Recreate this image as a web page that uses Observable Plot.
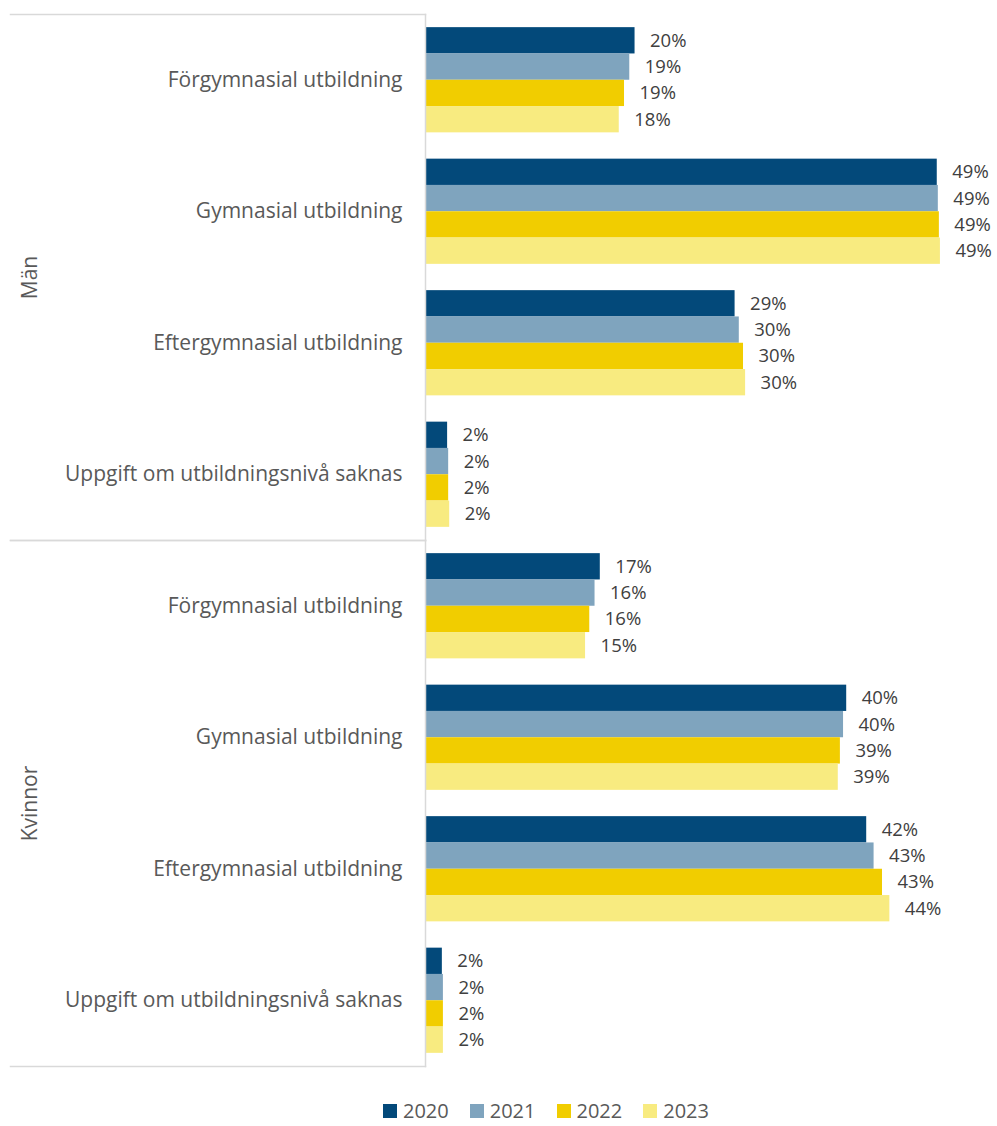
<!DOCTYPE html>
<html><head><meta charset="utf-8">
<script src="https://cdn.jsdelivr.net/npm/d3@7"></script>
<script src="https://cdn.jsdelivr.net/npm/@observablehq/plot@0.6"></script>
<style>
body{margin:0;background:#fff;font-family:"Open Sans",sans-serif;}
#legend{display:flex;margin-left:383px;margin-top:22px;height:18px;line-height:18px;align-items:center;font-size:20px;color:#595959;}
.item{display:flex;align-items:center;margin-right:21px;}
.sw{width:14px;height:14px;margin-right:6px;}
</style></head><body>
<div id="chart"></div>
<div id="legend"></div>
<script>
const groups = ["Män", "Kvinnor"];
const categories = ["Förgymnasial utbildning", "Gymnasial utbildning", "Eftergymnasial utbildning", "Uppgift om utbildningsnivå saknas"];
const years = ["2020", "2021", "2022", "2023"];
const colors = ["#03497a", "#7fa4be", "#f1cd00", "#f8eb80"];

// values in %, order follows categories
const men2020 = [19.9, 48.6, 29.4, 2.1];
const men2021 = [19.4, 48.7, 29.8, 2.2];
const men2022 = [18.9, 48.8, 30.2, 2.2];
const men2023 = [18.4, 48.9, 30.4, 2.3];
const women2020 = [16.6, 40.0, 41.9, 1.6];
const women2021 = [16.1, 39.7, 42.6, 1.7];
const women2022 = [15.6, 39.4, 43.4, 1.7];
const women2023 = [15.2, 39.2, 44.1, 1.7];

const seriesByGroup = {
  "Män": [men2020, men2021, men2022, men2023],
  "Kvinnor": [women2020, women2021, women2022, women2023]
};

const key = (c, y) => c + "|" + y;
const rows = [];
groups.forEach(g => {
  categories.forEach((c, ci) => {
    years.forEach((y, yi) => {
      rows.push({group: g, category: c, year: y, value: seriesByGroup[g][yi][ci]});
    });
  });
});

const yDomain = [];
categories.forEach((c, ci) => {
  if (ci > 0) yDomain.push("gap" + ci);
  years.forEach(y => yDomain.push(key(c, y)));
});

const W = 997, H = 1080, MT = 14, MB = 14, ML = 425, MR = 0;
const step = (H - MT - MB) / groups.length / (yDomain.length + 1);
const pxPerPct = 10.53;
const xMax = (W - ML - MR) / pxPerPct;
const lineColor = "#d9d9d9";

const chart = Plot.plot({
  width: W,
  height: H,
  marginTop: MT,
  marginBottom: MB,
  marginLeft: ML,
  marginRight: MR,
  style: {fontFamily: "'Open Sans', sans-serif", fontSize: "18px", background: "#fff", overflow: "visible"},
  x: {domain: [0, xMax], axis: null},
  y: {domain: yDomain, paddingInner: 0, paddingOuter: 0.5, round: false, axis: null},
  fy: {domain: groups, padding: 0, round: false, axis: null},
  color: {domain: years, range: colors},
  marks: [
    Plot.barX(rows, {fy: "group", y: d => key(d.category, d.year), x: "value", fill: "year"}),
    Plot.text(rows, {
      fy: "group", y: d => key(d.category, d.year), x: "value",
      text: d => Math.round(d.value) + "%",
      dx: 15, textAnchor: "start", fill: "#404040", fontSize: 18.5
    }),
    Plot.text(categories, {
      y: c => key(c, "2021"), frameAnchor: "left", text: d => d,
      dx: -23, dy: step / 2, textAnchor: "end", fill: "#595959", fontSize: 21
    }),
    Plot.text(groups, {
      fy: d => d, text: d => d, frameAnchor: "left",
      dx: -(ML - 30), rotate: -90, textAnchor: "middle", fill: "#595959", fontSize: 21
    }),
    Plot.frame({anchor: "left", stroke: lineColor, strokeWidth: 1.5}),
    Plot.frame({anchor: "top", stroke: lineColor, strokeWidth: 1.5, insetLeft: -(ML - 10), insetRight: W - ML - MR}),
    Plot.frame({anchor: "bottom", stroke: lineColor, strokeWidth: 1.5, insetLeft: -(ML - 10), insetRight: W - ML - MR})
  ]
});
document.getElementById("chart").appendChild(chart);

const legend = document.getElementById("legend");
years.forEach((y, i) => {
  const it = document.createElement("div");
  it.className = "item";
  const sw = document.createElement("span");
  sw.className = "sw";
  sw.style.background = colors[i];
  const t = document.createElement("span");
  t.textContent = y;
  it.appendChild(sw); it.appendChild(t);
  legend.appendChild(it);
});
</script>
</body></html>
